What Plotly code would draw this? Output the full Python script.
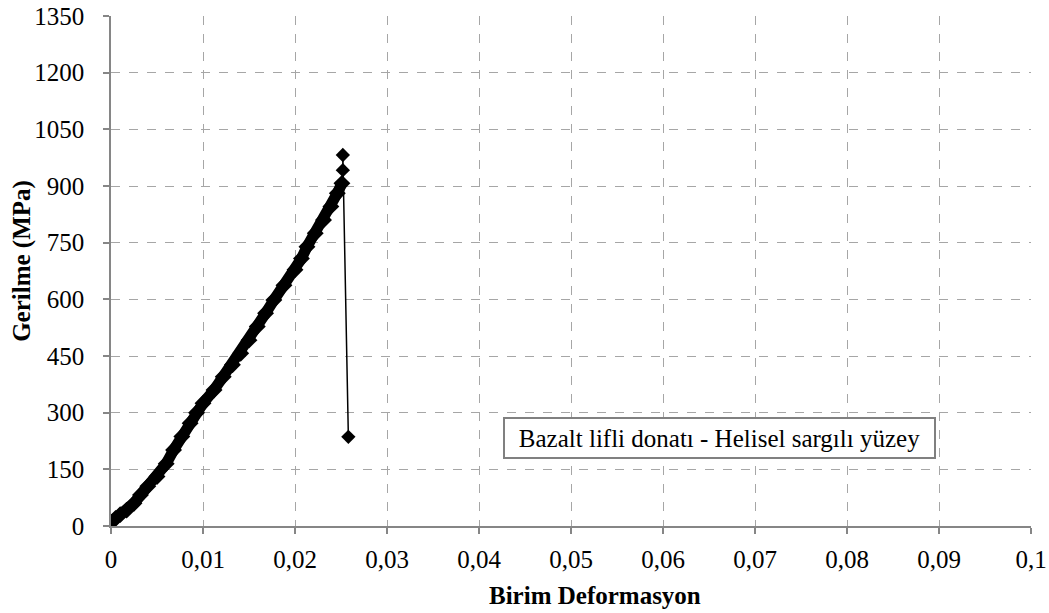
import plotly.graph_objects as go

# Stress-strain data
strain = [0, 0.0005, 0.001, 0.0017, 0.0025, 0.0032, 0.004, 0.005, 0.006, 0.0068,
          0.0077, 0.0086, 0.0093, 0.01, 0.0112, 0.0122, 0.0132, 0.0141, 0.015, 0.0159,
          0.0168, 0.0177, 0.0188, 0.02, 0.0207, 0.0213, 0.0222, 0.0231, 0.0239, 0.0246,
          0.0251]
stress = [10, 20, 30, 42, 60, 82, 105, 131, 165, 201,
          237, 272, 300, 325, 360, 395, 427, 457, 492, 528,
          563, 598, 637, 678, 708, 739, 775, 810, 846, 881,
          907]
# Peak and rupture points
end_strain = [0.0251, 0.0252, 0.0252, 0.0258]
end_stress = [907, 942, 982, 236]

x_tickvals = [0, 0.01, 0.02, 0.03, 0.04, 0.05, 0.06, 0.07, 0.08, 0.09, 0.1]
x_ticktext = ["0", "0,01", "0,02", "0,03", "0,04", "0,05", "0,06", "0,07", "0,08", "0,09", "0,1"]
y_tickvals = [0, 150, 300, 450, 600, 750, 900, 1050, 1200, 1350]

label_text = "Bazalt lifli donatı - Helisel sargılı yüzey"
x_title = "Birim Deformasyon"
y_title = "Gerilme (MPa)"

font_family = "Liberation Serif, Times New Roman, serif"

fig = go.Figure()
fig.add_trace(go.Scatter(
    x=strain, y=stress, mode="lines+markers",
    line=dict(color="black", width=11),
    marker=dict(symbol="diamond", size=13, color="black"),
    showlegend=False, hoverinfo="skip"))
fig.add_trace(go.Scatter(
    x=end_strain, y=end_stress, mode="lines+markers",
    line=dict(color="black", width=1.5),
    marker=dict(symbol="diamond", size=11, color="black"),
    showlegend=False, hoverinfo="skip"))

axis_common = dict(
    showline=True, linecolor="#868686", linewidth=1.5,
    ticks="outside", tickcolor="#868686", ticklen=6, tickwidth=1.5,
    showgrid=True, gridcolor="#a6a6a6", griddash="dash", gridwidth=1,
    zeroline=False, automargin=False,
    tickfont=dict(family=font_family, size=25, color="black"),
)

fig.update_layout(
    width=1049, height=613,
    margin=dict(l=111, r=18, t=16, b=87, autoexpand=False),
    paper_bgcolor="white", plot_bgcolor="white",
    font=dict(family=font_family, color="black"),
    xaxis=dict(range=[0, 0.1], tickmode="array", tickvals=x_tickvals, ticktext=x_ticktext,
               ticklabelstandoff=4, **axis_common),
    yaxis=dict(range=[0, 1350], tickmode="array", tickvals=y_tickvals,
               ticklabelstandoff=14, **axis_common),
    annotations=[
        dict(x=0.0426, y=233, xref="x", yref="y", xanchor="left", yanchor="middle",
             text=label_text, showarrow=False, width=421, height=30, align="center",
             font=dict(family=font_family, size=25, color="black"),
             bordercolor="#808080", borderwidth=2, borderpad=4, bgcolor="white"),
        dict(x=0.526, y=-0.137, xref="paper", yref="paper", xanchor="center", yanchor="middle",
             text="<b>" + x_title + "</b>", showarrow=False,
             font=dict(family=font_family, size=25, color="black")),
        dict(x=-0.0967, y=0.52, xref="paper", yref="paper", xanchor="center", yanchor="middle",
             text="<b>" + y_title + "</b>", showarrow=False, textangle=-90,
             font=dict(family=font_family, size=25, color="black")),
    ],
)

fig.write_html("out.html", config={"displayModeBar": False},
               post_script="document.body.style.margin='0px';")
